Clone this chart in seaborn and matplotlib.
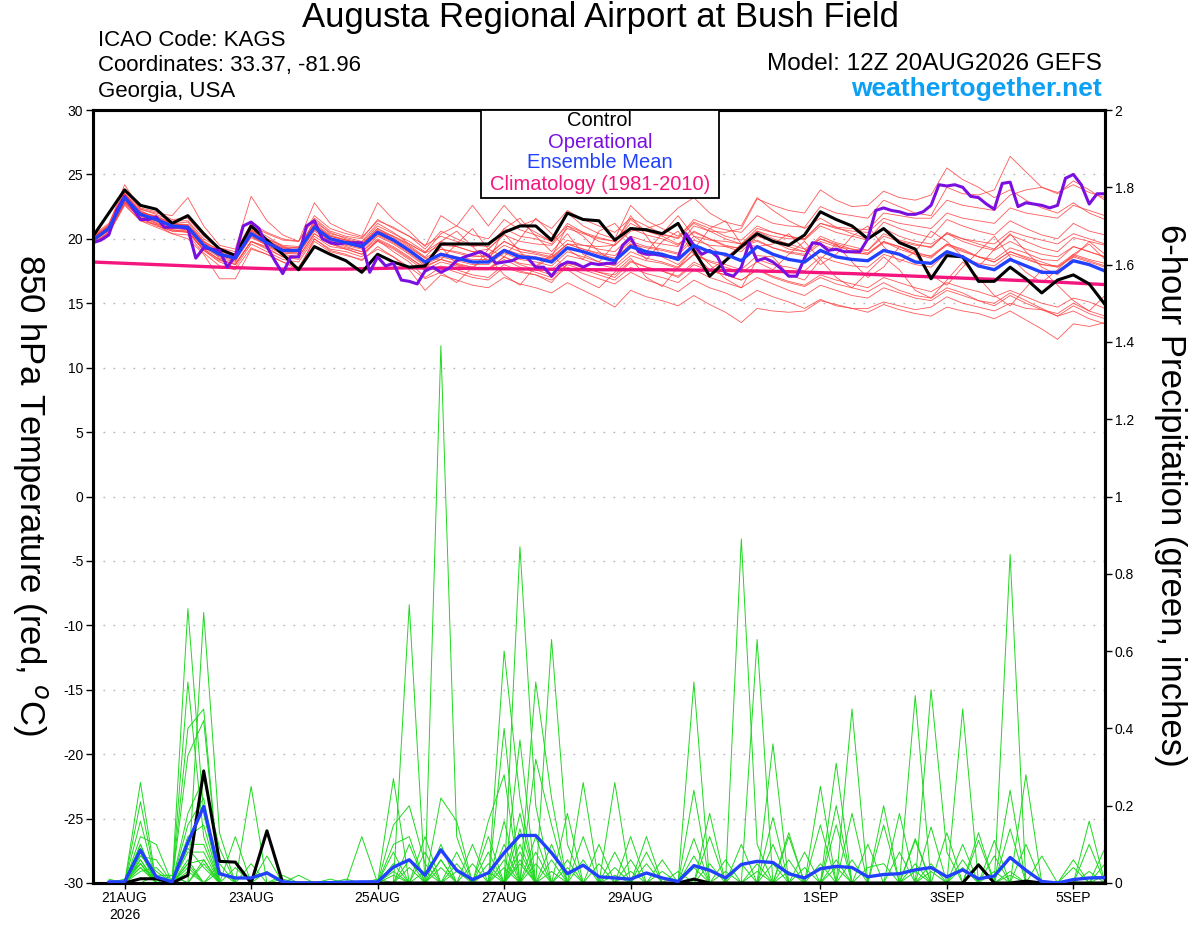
import numpy as np
import pandas as pd
import matplotlib
matplotlib.use('Agg')
import matplotlib.pyplot as plt
import matplotlib.dates as mdates
from matplotlib.patches import Rectangle
import seaborn as sns

# --- tiempos (12Z 20AUG2026 GEFS, 16 dias) ---
t0 = pd.Timestamp('2026-08-20 12:00')
times_6h = pd.date_range(t0, periods=65, freq='6h')
times_3h = pd.date_range(t0, periods=129, freq='3h')
times_pcp = pd.date_range(t0 + pd.Timedelta(hours=6), periods=64, freq='6h')
times_clim = pd.date_range(t0, periods=17, freq='24h')

# --- temperatura 850 hPa (C) ---
control_t = [20.2, 22.0, 23.8, 22.6, 22.3, 21.2, 21.8, 20.4,
             19.2, 18.7, 21.0, 19.9, 18.8, 17.6, 19.4, 18.8,
             18.3, 17.4, 18.8, 18.2, 17.8, 17.9, 19.6, 19.6,
             19.6, 19.6, 20.5, 21.0, 21.0, 19.9, 22.0, 21.5,
             21.4, 19.9, 20.8, 20.7, 20.4, 21.2, 19.1, 17.1,
             18.3, 19.4, 20.4, 19.8, 19.5, 20.3, 22.1, 21.5,
             21.0, 20.0, 20.8, 19.7, 19.2, 16.9, 18.7, 18.6,
             16.7, 16.7, 17.8, 16.9, 15.8, 16.8, 17.2, 16.5, 14.9]

oper_t = [19.7, 19.9, 20.3, 22.2, 23.3, 22.4, 21.5, 21.5, 21.7, 20.9, 20.9, 20.9, 20.8, 18.5, 19.3, 19.2,
          19.1, 17.8, 18.7, 21.0, 21.3, 20.8, 19.4, 18.3, 17.3, 18.6, 18.6, 21.0, 21.4, 20.0, 19.7, 19.6,
          19.7, 19.7, 19.7, 17.4, 18.6, 17.9, 18.1, 16.8, 16.7, 16.5, 17.5, 17.8, 17.4, 17.7, 18.3, 18.6,
          18.8, 19.0, 18.7, 18.1, 18.2, 18.3, 18.6, 18.5, 17.8, 17.8, 17.1, 17.9, 18.2, 18.1, 17.8, 18.1,
          18.0, 18.1, 18.1, 19.5, 20.1, 19.0, 18.8, 18.8, 18.7, 18.6, 18.5, 20.4, 19.5, 18.8, 19.1, 18.6,
          17.3, 17.1, 17.8, 19.7, 18.3, 18.5, 18.2, 17.7, 17.1, 17.1, 18.5, 19.7, 19.6, 19.1, 19.2, 19.0,
          19.0, 19.0, 20.0, 22.2, 22.4, 22.2, 22.1, 21.9, 21.9, 22.1, 22.6, 24.2, 24.1, 24.2, 24.0, 23.3,
          23.2, 22.7, 22.3, 24.3, 24.4, 22.5, 22.8, 22.7, 22.6, 22.4, 22.6, 24.7, 25.0, 24.2, 22.7, 23.5,
          23.5]

mean_t = [19.9, 20.8, 23.2, 21.9, 21.5, 21.0, 20.9, 19.5,
          18.8, 18.5, 20.4, 19.7, 19.1, 19.1, 20.9, 20.0,
          19.7, 19.4, 20.5, 19.9, 19.1, 18.2, 18.8, 18.5,
          18.2, 18.2, 19.1, 18.6, 18.5, 18.2, 19.3, 19.0,
          18.6, 18.3, 19.4, 19.0, 18.8, 18.4, 19.5, 19.0,
          18.8, 18.3, 19.4, 18.8, 18.4, 18.2, 19.1, 18.6,
          18.4, 18.3, 19.1, 18.8, 18.2, 18.1, 19.0, 18.6,
          17.9, 17.6, 18.4, 17.9, 17.4, 17.4, 18.3, 18.0, 17.5]

clim_t = [18.2, 18.0, 17.8, 17.65, 17.65, 17.75, 17.7, 17.65, 17.6,
          17.6, 17.55, 17.45, 17.3, 17.1, 16.9, 16.7, 16.45]

temp_members = [
    [20.1, 21.0, 23.6, 22.0, 21.8, 21.2, 21.3, 19.8, 18.5, 18.2, 20.8, 20.2, 19.4, 19.0, 21.5, 20.4,
     20.1, 19.8, 21.2, 20.5, 19.6, 18.9, 19.5, 19.4, 19.0, 19.2, 20.3, 19.8, 19.6, 19.5, 20.8, 20.4,
     20.0, 19.8, 21.2, 20.6, 20.3, 20.1, 21.5, 21.0, 20.7, 20.5, 21.8, 21.2, 21.0, 20.9, 22.5, 22.0,
     21.8, 21.6, 23.0, 22.5, 22.0, 21.8, 24.0, 23.5, 23.4, 23.8, 26.4, 25.2, 24.0, 23.5, 24.5, 23.8, 23.0],
    [20.0, 20.6, 22.9, 21.7, 21.2, 20.7, 20.5, 19.2, 18.4, 18.0, 19.8, 19.3, 18.6, 18.4, 20.2, 19.4,
     19.2, 18.8, 19.8, 19.2, 18.4, 17.5, 17.9, 17.6, 17.2, 17.0, 18.0, 17.5, 17.2, 16.8, 17.8, 17.3,
     16.9, 16.5, 17.4, 16.8, 16.4, 15.9, 16.8, 16.2, 15.8, 15.2, 16.0, 15.5, 15.1, 14.6, 15.3, 14.8,
     14.6, 14.3, 14.9, 14.5, 14.2, 14.0, 14.7, 14.4, 14.2, 13.8, 14.4, 13.7, 13.0, 12.2, 13.4, 13.2, 13.5],
    [19.8, 21.1, 24.2, 22.3, 22.0, 21.8, 23.2, 21.0, 19.5, 19.2, 23.3, 21.4, 20.3, 19.8, 21.6, 20.6,
     20.2, 20.0, 21.5, 20.8, 20.2, 19.2, 20.6, 20.0, 19.5, 19.4, 20.8, 20.2, 20.0, 19.6, 21.2, 20.5,
     20.1, 19.8, 21.5, 20.6, 20.2, 19.6, 20.5, 20.0, 19.4, 19.0, 20.2, 19.8, 19.4, 19.0, 20.2, 19.7,
     19.4, 19.1, 20.4, 19.9, 19.6, 19.3, 20.5, 20.0, 19.6, 19.2, 20.3, 19.8, 19.3, 19.0, 20.1, 19.8, 19.5],
    [19.6, 20.5, 22.7, 21.4, 21.1, 20.4, 20.0, 18.8, 16.9, 16.9, 19.2, 18.8, 18.2, 17.6, 20.0, 19.2,
     19.0, 18.6, 19.9, 19.0, 18.2, 17.0, 17.8, 17.4, 17.0, 16.8, 17.8, 17.4, 17.2, 16.6, 18.1, 17.8,
     17.4, 17.0, 18.2, 17.8, 17.5, 17.0, 18.0, 17.5, 17.2, 16.8, 17.6, 17.1, 16.7, 16.4, 17.2, 16.8,
     16.5, 16.2, 17.0, 16.6, 16.2, 15.9, 16.6, 16.2, 15.9, 15.5, 16.0, 15.5, 15.0, 14.7, 15.4, 15.1, 14.6],
    [20.3, 21.2, 23.8, 22.4, 22.1, 21.5, 21.6, 20.2, 19.3, 18.8, 21.0, 20.4, 19.9, 19.8, 22.8, 21.2,
     20.6, 20.2, 22.8, 21.5, 20.6, 19.4, 21.8, 21.0, 20.3, 20.0, 21.5, 20.7, 20.3, 19.8, 21.0, 20.5,
     19.8, 19.5, 20.8, 20.3, 20.0, 19.5, 20.6, 20.0, 19.5, 19.2, 20.4, 19.8, 19.2, 19.0, 20.0, 19.5,
     19.0, 18.8, 19.8, 19.2, 18.8, 18.5, 19.6, 19.2, 18.6, 18.2, 19.0, 18.5, 18.0, 17.8, 18.6, 18.2, 17.8],
    [19.9, 20.9, 23.4, 22.0, 21.6, 21.2, 21.0, 19.6, 18.9, 18.6, 20.6, 19.9, 19.2, 19.2, 21.1, 20.2,
     19.9, 19.6, 20.6, 20.2, 19.6, 18.9, 20.4, 21.0, 22.6, 21.0, 22.6, 21.2, 20.5, 19.8, 22.0, 21.0,
     20.4, 20.0, 22.6, 21.4, 20.8, 20.2, 21.3, 20.8, 20.2, 19.9, 21.0, 20.5, 20.2, 19.9, 21.0, 20.5,
     20.2, 19.9, 21.3, 20.8, 20.4, 20.1, 21.5, 21.0, 20.6, 20.3, 21.4, 20.8, 20.3, 20.0, 21.2, 20.6, 20.3],
    [19.7, 20.4, 22.8, 21.6, 21.0, 20.6, 20.6, 19.1, 18.2, 17.8, 19.6, 19.0, 18.4, 18.2, 20.0, 19.1,
     18.8, 18.3, 19.4, 18.6, 17.6, 16.0, 17.2, 16.8, 16.4, 16.2, 17.0, 16.5, 16.2, 15.8, 16.6, 16.0,
     15.4, 14.7, 16.0, 15.5, 15.2, 14.8, 15.6, 14.9, 14.3, 13.5, 14.6, 14.4, 14.3, 14.4, 15.2, 14.9,
     14.6, 14.6, 15.1, 14.8, 14.5, 14.7, 15.5, 15.0, 14.7, 14.4, 15.0, 14.6, 14.5, 14.0, 14.8, 14.2, 13.8],
    [20.0, 20.8, 23.3, 22.0, 21.5, 21.1, 20.9, 19.6, 18.9, 18.6, 20.3, 19.6, 19.2, 19.0, 20.8, 20.0,
     19.6, 19.3, 20.4, 19.8, 19.0, 18.3, 19.2, 18.9, 18.6, 18.7, 19.8, 19.2, 19.0, 18.8, 19.9, 19.5,
     19.2, 19.0, 20.2, 19.8, 19.6, 19.4, 21.0, 20.6, 20.5, 20.8, 23.1, 22.6, 22.2, 22.0, 23.8, 23.0,
     22.5, 22.6, 23.7, 23.2, 23.0, 23.4, 25.5, 24.6, 24.0, 23.2, 23.8, 23.0, 22.4, 22.0, 22.8, 22.0, 21.5],
    [19.8, 20.7, 23.0, 21.8, 21.3, 20.8, 20.7, 19.3, 18.6, 18.3, 20.1, 19.5, 18.9, 18.8, 20.6, 19.8,
     19.4, 19.0, 20.2, 19.6, 18.8, 17.9, 18.4, 18.1, 17.8, 17.7, 18.6, 18.1, 17.9, 17.6, 18.7, 18.4,
     18.0, 17.7, 18.7, 18.3, 18.1, 17.7, 18.8, 18.3, 18.0, 17.6, 18.7, 18.6, 17.2, 16.8, 18.4, 19.6,
     18.2, 17.0, 17.8, 19.4, 18.8, 17.2, 16.4, 17.8, 19.0, 20.2, 18.6, 17.4, 16.6, 17.6, 18.8, 19.6, 18.4],
    [20.2, 21.0, 23.4, 22.1, 21.7, 21.2, 21.0, 19.7, 19.0, 18.7, 20.6, 19.9, 19.3, 19.3, 21.2, 20.3,
     19.9, 19.6, 20.8, 20.2, 19.5, 18.6, 19.8, 20.6, 19.4, 18.2, 20.8, 21.6, 20.2, 19.0, 20.4, 18.8,
     18.2, 19.6, 21.8, 20.2, 18.6, 18.0, 19.2, 20.8, 21.4, 19.6, 19.9, 19.3, 18.9, 18.7, 19.6, 19.1,
     18.9, 18.8, 19.7, 19.4, 18.8, 18.7, 19.6, 19.1, 18.6, 18.4, 19.3, 18.9, 18.4, 18.3, 19.4, 19.0, 18.6],
    [19.9, 20.8, 23.1, 21.9, 21.4, 20.9, 20.8, 19.4, 18.7, 18.4, 20.2, 19.6, 19.0, 18.9, 20.7, 19.9,
     19.6, 19.3, 20.4, 19.8, 19.0, 18.2, 18.9, 18.6, 18.4, 18.4, 19.2, 18.8, 18.6, 18.4, 19.6, 19.5,
     19.4, 19.5, 20.6, 20.8, 21.2, 22.4, 23.2, 22.0, 21.3, 21.0, 23.2, 22.2, 21.4, 20.8, 21.6, 20.9,
     20.4, 20.0, 20.8, 20.2, 19.8, 19.6, 20.4, 19.8, 19.4, 19.1, 19.8, 19.2, 18.8, 18.6, 19.4, 19.0, 18.6],
    [19.8, 20.6, 22.9, 21.8, 21.2, 20.7, 20.6, 19.2, 18.4, 18.0, 19.8, 19.2, 18.6, 18.6, 20.4, 19.6,
     19.3, 19.0, 20.0, 19.4, 18.6, 17.6, 18.2, 17.9, 17.6, 17.6, 18.6, 18.0, 17.6, 17.2, 18.2, 17.8,
     17.4, 17.2, 18.3, 17.8, 17.5, 17.1, 18.2, 17.6, 17.2, 16.8, 17.6, 17.0, 16.6, 16.3, 17.0, 16.5,
     16.2, 15.9, 16.6, 16.0, 15.6, 15.4, 16.2, 15.8, 15.2, 14.8, 15.6, 15.0, 14.5, 14.2, 15.0, 14.4, 14.0],
    [20.1, 20.9, 23.5, 22.2, 21.6, 21.1, 21.1, 19.8, 19.1, 18.8, 20.7, 20.0, 19.5, 19.4, 21.3, 20.5,
     20.0, 19.7, 21.0, 20.4, 19.8, 19.0, 19.8, 19.4, 19.0, 18.8, 19.8, 19.2, 18.9, 18.6, 19.6, 19.2,
     18.8, 18.5, 19.6, 19.3, 19.1, 18.8, 19.9, 19.5, 19.4, 19.3, 20.6, 20.2, 20.0, 20.0, 21.2, 20.8,
     20.6, 20.5, 21.6, 21.2, 21.0, 20.8, 22.0, 21.6, 21.4, 21.2, 22.4, 22.0, 21.8, 21.6, 22.6, 22.2, 21.8],
    [19.6, 20.4, 22.6, 21.4, 20.9, 20.4, 20.3, 18.9, 17.9, 17.6, 19.3, 18.8, 18.2, 17.8, 19.8, 19.0,
     18.7, 18.4, 19.2, 18.6, 17.8, 16.9, 17.4, 16.6, 17.8, 18.6, 17.2, 16.4, 17.9, 18.8, 17.6, 16.8,
     16.2, 17.4, 18.5, 17.0, 16.3, 17.8, 19.2, 18.0, 16.9, 16.2, 18.4, 18.0, 17.8, 17.5, 18.6, 18.2,
     17.9, 17.8, 18.8, 18.4, 18.0, 17.8, 18.9, 18.5, 18.1, 17.9, 18.8, 18.4, 18.0, 17.9, 18.8, 18.4, 18.1],
    [20.2, 21.1, 23.7, 22.3, 21.9, 21.4, 21.4, 20.0, 19.3, 19.0, 21.2, 20.5, 20.0, 19.8, 21.8, 20.8,
     20.4, 20.1, 21.4, 20.9, 20.2, 19.5, 20.2, 19.8, 19.4, 19.6, 20.6, 21.0, 21.5, 20.8, 22.2, 21.5,
     21.0, 20.5, 21.6, 21.0, 20.4, 20.0, 21.2, 20.6, 20.0, 19.6, 20.6, 20.0, 19.6, 19.2, 20.0, 19.6,
     19.2, 18.9, 19.8, 19.4, 19.0, 18.6, 19.5, 19.0, 18.6, 18.2, 19.0, 18.6, 18.2, 17.8, 18.7, 18.3, 17.9],
    [19.7, 20.5, 22.8, 21.6, 21.1, 20.6, 20.5, 19.1, 18.3, 18.1, 19.8, 19.4, 18.8, 18.6, 20.4, 19.6,
     19.2, 18.8, 19.9, 19.3, 18.5, 17.8, 18.4, 18.0, 17.8, 17.6, 18.4, 17.8, 17.4, 17.0, 18.0, 17.6,
     17.2, 16.8, 17.8, 17.3, 17.0, 16.6, 17.6, 17.0, 16.6, 16.2, 17.0, 16.5, 16.0, 15.6, 16.4, 16.0,
     15.6, 15.4, 16.2, 15.8, 15.4, 15.2, 16.0, 15.6, 15.2, 15.0, 15.8, 15.2, 14.6, 14.0, 14.4, 13.8, 13.4],
    [20.0, 20.9, 23.3, 22.0, 21.5, 21.0, 21.0, 19.6, 18.9, 18.5, 20.5, 19.8, 19.3, 19.1, 21.0, 20.1,
     19.8, 19.5, 20.7, 20.0, 19.3, 18.5, 19.2, 19.0, 18.7, 18.6, 19.5, 19.0, 18.8, 18.5, 19.6, 19.2,
     18.9, 18.7, 19.8, 19.4, 19.2, 18.9, 20.2, 19.9, 19.8, 19.6, 20.8, 20.5, 20.2, 20.0, 21.2, 20.9,
     20.8, 20.7, 22.0, 21.8, 21.6, 21.6, 23.0, 22.6, 22.4, 22.2, 23.4, 23.8, 24.0, 23.6, 24.2, 23.6, 23.2],
    [19.9, 20.8, 23.2, 21.9, 21.5, 21.0, 20.9, 19.5, 18.8, 18.5, 20.4, 19.7, 19.1, 19.1, 20.9, 20.0,
     19.7, 19.4, 20.5, 19.9, 19.1, 18.2, 19.4, 18.0, 17.6, 19.2, 20.4, 19.0, 17.8, 18.6, 21.0, 20.2,
     19.0, 18.2, 19.6, 18.4, 19.8, 20.6, 18.8, 17.6, 18.4, 19.6, 19.4, 19.6, 20.4, 19.2, 18.0, 18.8,
     20.2, 21.0, 19.4, 18.2, 19.0, 20.6, 19.8, 18.6, 17.8, 19.2, 20.4, 19.0, 17.8, 17.2, 18.6, 19.8, 18.8],
    [19.8, 20.7, 23.0, 21.8, 21.4, 20.9, 20.8, 19.4, 18.7, 18.4, 20.2, 19.5, 18.9, 18.9, 20.8, 19.8,
     19.5, 19.2, 20.3, 19.7, 18.9, 18.0, 18.6, 18.3, 18.0, 18.0, 18.9, 18.4, 18.2, 17.9, 19.0, 18.6,
     18.2, 17.9, 19.0, 18.5, 18.2, 17.8, 18.8, 18.2, 17.8, 17.4, 18.2, 17.6, 18.8, 19.8, 18.4, 17.0,
     16.2, 17.4, 18.6, 17.6, 16.0, 15.4, 16.8, 18.2, 17.0, 15.6, 14.8, 16.2, 17.6, 16.4, 15.2, 14.4, 15.6],
    [20.1, 21.0, 23.5, 22.1, 21.7, 21.2, 21.1, 19.8, 19.1, 18.8, 20.7, 20.0, 19.4, 19.3, 21.1, 20.2,
     19.9, 19.6, 20.8, 20.1, 19.4, 18.5, 18.4, 19.6, 20.8, 19.2, 18.6, 20.0, 21.6, 20.4, 19.2, 18.4,
     20.6, 21.2, 19.8, 19.0, 20.4, 21.8, 20.2, 19.4, 18.6, 19.4, 19.8, 19.3, 19.0, 18.8, 19.8, 19.4,
     19.2, 19.1, 20.2, 19.8, 19.5, 19.4, 20.4, 20.0, 19.8, 19.6, 20.6, 20.2, 19.9, 19.6, 20.4, 20.0, 19.6],
]

# --- precipitacion 6h (pulgadas), paso k = hora 6k ---
control_p = [0, 0, .011, .011, 0, .02, .29, .056, .054, 0, .135, 0, 0, 0, 0, 0,
             0, 0, 0, 0, 0, 0, 0, 0, 0, 0, 0, 0, 0, 0, 0, 0,
             0, 0, 0, 0, 0, .01, 0, 0, 0, 0, 0, 0, 0, 0, 0, 0,
             0, 0, 0, 0, 0, 0, 0, .047, 0, 0, .005, 0, 0, 0, 0, 0]

mean_p = [.003, .003, .085, .016, .003, .105, .198, .024, .013, .013, .026, .003, 0, 0, .001, .002,
          .003, .003, .041, .060, .020, .086, .033, .009, .026, .078, .123, .123, .078, .024, .046, .016,
          .013, .010, .026, .013, .004, .045, .033, .013, .048, .056, .053, .024, .013, .037, .043, .040,
          .016, .022, .024, .034, .040, .016, .034, .011, .018, .066, .033, .004, 0, .009, .013, .014]

# miembros: {paso k: valor distinto de cero}
precip_members = [
    {3: .26, 6: .71, 7: .18, 20: .72, 22: .06, 27: .14, 38: .52, 43: .05, 47: .31, 52: .05, 58: .14, 63: .16},
    {3: .21, 7: .70, 8: .13, 22: 1.39, 23: .12, 28: .12, 41: .10, 48: .45, 55: .10, 59: .28},
    {3: .16, 6: .52, 7: .12, 19: .27, 26: .60, 27: .22, 41: .89, 42: .10, 53: .145, 58: .24},
    {3: .12, 4: .10, 6: .40, 7: .45, 10: .25, 27: .87, 28: .20, 42: .63, 46: .15, 55: .45, 64: .09},
    {3: .10, 6: .33, 7: .42, 9: .12, 26: .40, 29: .63, 30: .10, 43: .36, 52: .485, 56: .05},
    {3: .09, 6: .18, 7: .27, 8: .09, 28: .52, 29: .22, 33: .26, 38: .24, 53: .50, 54: .08},
    {3: .08, 6: .15, 7: .22, 17: .12, 19: .15, 20: .20, 21: .05, 27: .37, 31: .26, 39: .18, 47: .20, 58: .85},
    {3: .07, 4: .06, 6: .12, 7: .15, 11: .07, 22: .22, 23: .16, 25: .16, 26: .28, 35: .12, 46: .25, 50: .20, 62: .06},
    {3: .06, 6: .10, 7: .10, 19: .10, 20: .12, 25: .12, 27: .18, 34: .12, 38: .115, 44: .13, 48: .18, 57: .11},
    {3: .05, 6: .08, 7: .08, 10: .05, 21: .12, 26: .16, 28: .32, 29: .15, 39: .12, 47: .15, 51: .18, 56: .13, 63: .10},
    {3: .04, 6: .06, 8: .05, 19: .08, 23: .08, 27: .10, 30: .18, 36: .06, 43: .17, 50: .15, 52: .115, 59: .10},
    {3: .03, 4: .04, 6: .05, 9: .04, 20: .10, 22: .10, 29: .10, 32: .10, 38: .07, 44: .12, 49: .10, 55: .06, 64: .05},
    {4: .02, 5: .02, 7: .06, 12: .02, 19: .05, 24: .10, 26: .10, 28: .08, 31: .12, 35: .08, 42: .05, 47: .06, 53: .05, 57: .07},
    {3: .05, 6: .04, 11: .03, 21: .08, 25: .08, 27: .06, 30: .06, 33: .08, 40: .06, 45: .08, 52: .11, 56: .11},
    {3: .06, 7: .05, 13: .02, 20: .06, 23: .05, 29: .06, 34: .06, 41: .05, 46: .05, 51: .08, 58: .03, 62: .04},
    {3: .08, 5: .02, 15: .01, 19: .03, 21: .03, 24: .05, 26: .06, 32: .05, 35: .05, 39: .05, 44: .06, 48: .06, 54: .13},
    {3: .10, 6: .03, 16: .01, 22: .06, 25: .05, 27: .08, 31: .06, 33: .04, 37: .03, 43: .10, 49: .04, 50: .05, 60: .07},
    {3: .07, 4: .03, 8: .03, 18: .01, 23: .03, 28: .05, 30: .04, 34: .03, 36: .03, 40: .03, 45: .04, 55: .04, 63: .03},
    {2: .01, 3: .05, 6: .09, 7: .04, 20: .04, 22: .04, 26: .04, 29: .03, 38: .04, 42: .03, 47: .04, 52: .03, 57: .03},
    {1: .01, 3: .04, 6: .05, 7: .06, 12: .01, 19: .02, 25: .03, 27: .05, 33: .02, 44: .03, 53: .03, 58: .02, 64: .02},
]

xtick_dates = ['2026-08-21', '2026-08-23', '2026-08-25', '2026-08-27', '2026-08-29',
               '2026-09-01', '2026-09-03', '2026-09-05']
xtick_labels = ['21AUG\n2026', '23AUG', '25AUG', '27AUG', '29AUG', '1SEP', '3SEP', '5SEP']

# --- tablas largas para seaborn ---
rows = []
for m, vals in enumerate(temp_members):
    assert len(vals) == 65
    for t, v in zip(times_6h, vals):
        rows.append((m, t, v))
df_t = pd.DataFrame(rows, columns=['member', 'time', 'temp'])

rows = []
for m, d in enumerate(precip_members):
    for k, t in enumerate(times_pcp, start=1):
        rows.append((m, t, d.get(k, 0.0)))
df_p = pd.DataFrame(rows, columns=['member', 'time', 'pcp'])

sns.set_style('white')
plt.rcParams['font.family'] = ['Liberation Sans', 'DejaVu Sans']
plt.rcParams['axes.unicode_minus'] = False  # guion normal en los negativos
for key in ('text.color', 'axes.labelcolor', 'xtick.color', 'ytick.color'):
    plt.rcParams[key] = 'black'

W, H = 1200, 927
fig = plt.figure(figsize=(W / 100, H / 100), dpi=100)
ax = fig.add_axes([93 / W, 1 - 883 / H, (1105 - 93) / W, (883 - 110) / H])
ax2 = ax.twinx()

# precipitacion (eje derecho)
sns.lineplot(data=df_p, x='time', y='pcp', units='member', estimator=None,
             color='#1ed81e', lw=0.7, ax=ax2, legend=False)
ax2.plot(times_pcp, mean_p, color='#2241ff', lw=2.4, zorder=5)
ax2.plot(times_pcp, control_p, color='black', lw=2.2, zorder=4)

# temperatura (eje izquierdo)
sns.lineplot(data=df_t, x='time', y='temp', units='member', estimator=None,
             color='#ff3b3b', lw=0.6, alpha=0.85, ax=ax, legend=False)
ax.plot(times_clim, clim_t, color='#f5157f', lw=2.4, zorder=3)
ax.plot(times_6h, control_t, color='black', lw=2.2, zorder=4)
ax.plot(times_3h, oper_t, color='#7a0fe0', lw=2.2, zorder=5)
ax.plot(times_6h, mean_t, color='#2241ff', lw=2.4, zorder=6)

ax.set_xlim(times_6h[0], times_6h[-1])
ax.set_ylim(-30, 30)
ax2.set_ylim(0, 2)
ax.set_yticks(np.arange(-30, 31, 5))
ax2.set_yticks(np.round(np.arange(0, 2.01, 0.2), 1))
ax2.set_yticklabels([f'{v:g}' for v in np.round(np.arange(0, 2.01, 0.2), 1)])
ax.set_xticks(mdates.date2num(pd.to_datetime(xtick_dates)))
ax.set_xticklabels(xtick_labels)
ax.set_xlabel('')
ax.set_ylabel('')
ax2.set_ylabel('')

# cuadricula punteada solo en y
for yv in range(-25, 30, 5):
    ax.axhline(yv, color='#b4b4b4', lw=1.0, linestyle=(0, (1.2, 6)), zorder=0)

ax.tick_params(axis='y', direction='out', length=5, width=1, labelsize=10, pad=2, left=True)
ax.tick_params(axis='x', direction='out', length=4, width=1, labelsize=10, pad=2, bottom=True)
ax2.tick_params(axis='y', direction='out', length=5, width=1, labelsize=10, pad=2, right=True)
for a in (ax, ax2):
    for s in a.spines.values():
        s.set_linewidth(2.2)
        s.set_color('black')

# textos
def ftxt(x, y, s, **kw):
    fig.text(x / W, 1 - y / H, s, **kw)

ftxt(600, 18, 'Augusta Regional Airport at Bush Field', fontsize=25, ha='center', va='center')
ftxt(98, 40, 'ICAO Code: KAGS', fontsize=16, ha='left', va='center')
ftxt(98, 66, 'Coordinates: 33.37, -81.96', fontsize=16, ha='left', va='center')
ftxt(98, 92, 'Georgia, USA', fontsize=16, ha='left', va='center')
ftxt(1102, 64, 'Model: 12Z 20AUG2026 GEFS', fontsize=17.5, ha='right', va='center')
ftxt(1102, 89, 'weathertogether.net', fontsize=19, fontweight='bold', color='#0ca0f5',
     ha='right', va='center')
ftxt(30, 495, '850 hPa Temperature (red, $^o$C)', fontsize=25, rotation=270,
     ha='center', va='center')
ftxt(1170, 495, '6-hour Precipitation (green, inches)', fontsize=25, rotation=270,
     ha='center', va='center')

# caja de leyenda
fig.add_artist(Rectangle((481 / W, 1 - 198 / H), 238 / W, 88 / H, transform=fig.transFigure,
                         facecolor='white', edgecolor='black', lw=1.3, zorder=10))
leg = [('Control', 'black', 121), ('Operational', '#7a0fe0', 142),
       ('Ensemble Mean', '#2241ff', 163), ('Climatology (1981-2010)', '#f5157f', 185)]
for s, c, y in leg:
    ftxt(600, y, s, fontsize=14.5, color=c, ha='center', va='center', zorder=11)

fig.savefig('out.png', dpi=100)
